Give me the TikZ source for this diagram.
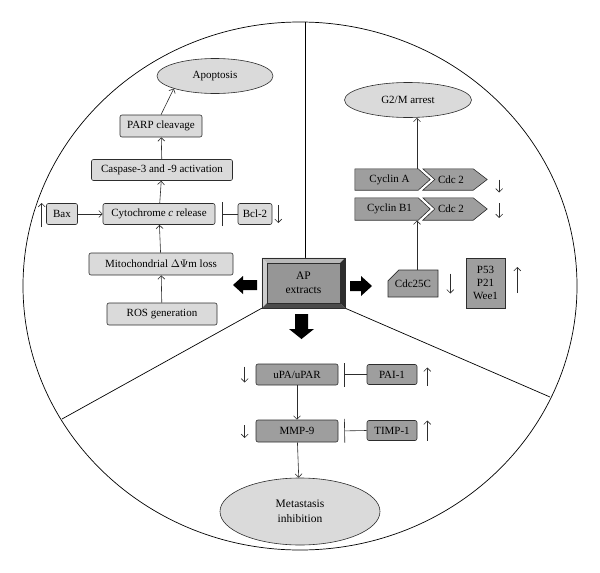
\documentclass[tikz,border=0pt]{standalone}
\usepackage{fontspec}
\setmainfont{Liberation Serif}
\usetikzlibrary{positioning,arrows.meta,shapes.geometric,shapes.misc}
\definecolor{edgegray}{RGB}{45,45,45}
\definecolor{palegray}{RGB}{218,218,218}
\definecolor{midgray}{RGB}{158,158,158}
\definecolor{facegray}{RGB}{150,150,150}
\definecolor{bevellight}{RGB}{205,205,205}
\definecolor{beveltop}{RGB}{185,185,185}
\definecolor{beveldark}{RGB}{75,75,75}
\definecolor{bevelshade}{RGB}{45,45,45}
\tikzset{
  light-node/.style={draw=edgegray, fill=palegray, rounded corners=2pt, line width=0.6pt,
    inner sep=0pt, font=\fontsize{11}{13}\selectfont, align=center},
  dark-node/.style={draw=edgegray, fill=midgray, rounded corners=2pt, line width=0.6pt,
    inner sep=0pt, font=\fontsize{11}{13}\selectfont, align=center},
  outcome-node/.style={ellipse, draw=edgegray, fill=palegray, inner sep=0pt, line width=0.6pt,
    font=\fontsize{11}{13}\selectfont, align=center},
  label-node/.style={inner sep=0pt, font=\fontsize{11}{13}\selectfont},
  cc-shape/.style={draw=edgegray, fill=midgray, line width=0.6pt},
  flow-arrow/.style={-{Straight Barb[length=3.5pt,width=7pt]}, line width=0.6pt, draw=edgegray},
  inhibit-arrow/.style={-{Bar[width=24pt]}, line width=0.6pt, draw=edgegray, shorten >=7pt},
  level-arrow/.style={-{Straight Barb[length=3.5pt,width=7pt]}, line width=0.6pt, draw=edgegray},
  block-arrow/.style={fill=black},
  divider/.style={draw=black, line width=0.7pt}
}
\begin{document}
\begin{tikzpicture}[x=1pt, y=-1pt]
\useasboundingbox (0,0) rectangle (600,573);
% outer disc and the three sector borders
\draw[divider] (300,286) ellipse [x radius=277pt, y radius=264pt];
\node[minimum width=83, minimum height=50, inner sep=0pt] (ap-frame) at (303.5,283) {};
\coordinate (rim-top) at (305,22);
\coordinate (rim-left) at (62,419);
\coordinate (rim-right) at (550,397);
\draw[divider] (rim-top) -- (rim-top |- ap-frame.north);
\draw[divider] (ap-frame.south west) -- (rim-left);
\draw[divider] (ap-frame.south east) -- (rim-right);
% bevelled centre box
\node[minimum width=73, minimum height=40, inner sep=0pt] (ap) at (303.5,283) {};
\fill[beveltop] (ap-frame.north west) -- (ap-frame.north east) -- (ap.north east) -- (ap.north west) -- cycle;
\fill[bevellight] (ap-frame.north west) -- (ap.north west) -- (ap.south west) -- (ap-frame.south west) -- cycle;
\fill[bevelshade] (ap-frame.north east) -- (ap-frame.south east) -- (ap.south east) -- (ap.north east) -- cycle;
\fill[beveldark] (ap-frame.south west) -- (ap.south west) -- (ap.south east) -- (ap-frame.south east) -- cycle;
\draw[edgegray, thin] (ap-frame.north west) rectangle (ap-frame.south east);
\node[draw=edgegray, fill=facegray, minimum width=73, minimum height=40, inner sep=0pt,
  font=\fontsize{11.5}{13.5}\selectfont, align=center] at (ap) {AP\\extracts};
% thick arrows out of the centre box
\fill[block-arrow] (257,280) -- (243,280) -- (243,276) -- (233,285) -- (243,294) -- (243,290) -- (257,290) -- cycle;
\fill[block-arrow] (350,281) -- (361,281) -- (361,276) -- (372,286) -- (361,296) -- (361,291) -- (350,291) -- cycle;
\fill[block-arrow] (295,314) -- (295,329) -- (289,329) -- (301.5,339) -- (314,329) -- (308,329) -- (308,314) -- cycle;
% apoptosis sector
\node[outcome-node, minimum width=116, minimum height=35] (apoptosis) at (215,76) {Apoptosis};
\node[light-node, minimum width=82, minimum height=22] (parp) at (161,126) {PARP cleavage};
\node[light-node, minimum width=141, minimum height=21] (casp) at (162,170) {Caspase-3 and -9 activation};
\node[light-node, minimum width=112, minimum height=21] (cyto) at (159,214) {Cytochrome \textit{c} release};
\node[light-node, minimum width=31, minimum height=21] (bax) at (62,214) {Bax};
\node[light-node, minimum width=34, minimum height=21] (bcl2) at (255,214) {Bcl-2};
\node[light-node, minimum width=144, minimum height=22] (mito) at (161,264) {Mitochondrial $\Delta\Psi$m loss};
\node[light-node, minimum width=110, minimum height=22] (ros) at (162,314) {ROS generation};
\draw[flow-arrow] (ros) -- (mito);
\draw[flow-arrow] (mito) -- (cyto);
\draw[flow-arrow] (cyto) -- (casp);
\draw[flow-arrow] (casp) -- (parp);
\draw[flow-arrow] (parp.north) -- (apoptosis.south west);
\draw[flow-arrow] (bax) -- (cyto);
\draw[inhibit-arrow] (bcl2.west) -- (cyto.east);
\draw[level-arrow] ([xshift=-4.5]bax.west) ++(0,13) -- ++(0,-24);
\draw[level-arrow] ([xshift=6]bcl2.east) ++(0,-9) -- ++(0,18);
% cell cycle sector: cyclin pointers fit into the notched Cdc 2 blocks
\node[outcome-node, minimum width=127, minimum height=35] (g2m) at (408,100) {G2/M arrest};
\node[label-node, minimum width=63, minimum height=21] (cyclina) at (386.5,179.5) {};
\node[label-node, minimum width=50, minimum height=21] (cdca) at (448,179.5) {};
\node[label-node, minimum width=63, minimum height=22] (cyclinb) at (386.5,209) {};
\node[label-node, minimum width=50, minimum height=22] (cdcb) at (448,209) {};
\filldraw[cc-shape] (cyclina.north west) -- (cyclina.north east) -- ([xshift=12]cyclina.east)
  -- (cyclina.south east) -- (cyclina.south west) -- cycle;
\filldraw[cc-shape] (cdca.north west) -- (cdca.north east) -- ([xshift=14]cdca.east)
  -- (cdca.south east) -- (cdca.south west) -- ([xshift=12]cdca.west) -- cycle;
\filldraw[cc-shape] (cyclinb.north west) -- (cyclinb.north east) -- ([xshift=12]cyclinb.east)
  -- (cyclinb.south east) -- (cyclinb.south west) -- cycle;
\filldraw[cc-shape] (cdcb.north west) -- (cdcb.north east) -- ([xshift=14]cdcb.east)
  -- (cdcb.south east) -- (cdcb.south west) -- ([xshift=12]cdcb.west) -- cycle;
\node[label-node] at ([xshift=3]cyclina) {Cyclin A};
\node[label-node] at ([xshift=3]cdca) {Cdc 2};
\node[label-node] at ([xshift=3]cyclinb) {Cyclin B1};
\node[label-node] at ([xshift=3]cdcb) {Cdc 2};
\node[dark-node, rounded corners=0pt, chamfered rectangle, chamfered rectangle corners=north west,
  chamfered rectangle xsep=7pt, chamfered rectangle ysep=7pt,
  minimum width=50, minimum height=27] (cdc25c) at (413,283.5) {Cdc25C};
\node[dark-node, rounded corners=0pt, minimum width=39, minimum height=50] (p53) at (485.5,283) {P53\\P21\\Wee1};
\coordinate (cc-top) at (417,169);
\coordinate (cc-bottom) at (417,220.5);
\draw[flow-arrow] (cc-top) -- (cc-top |- g2m.south);
\draw[flow-arrow] ([xshift=4]cdc25c.north) -- (cc-bottom);
\draw[level-arrow] ([xshift=26]cdca.east) ++(0,0) -- ++(0,13);
\draw[level-arrow] ([xshift=26]cdcb.east) ++(0,-6) -- ++(0,15);
\draw[level-arrow] ([xshift=12]cdc25c.east) ++(0,-10) -- ++(0,20);
\draw[level-arrow] ([xshift=12]p53.east) ++(0,10) -- ++(0,-26);
% metastasis sector
\node[dark-node, minimum width=82, minimum height=21] (upa) at (297,374.5) {uPA/uPAR};
\node[dark-node, minimum width=50, minimum height=20] (pai1) at (392,374.5) {PAI-1};
\node[dark-node, minimum width=82, minimum height=22] (mmp9) at (297,431) {MMP-9};
\node[dark-node, minimum width=50, minimum height=20] (timp1) at (392,430.5) {TIMP-1};
\node[outcome-node, minimum width=160, minimum height=67, font=\fontsize{11.5}{15}\selectfont] (metastasis) at (300,511.5) {Metastasis\\inhibition};
\draw[flow-arrow] (upa) -- (mmp9);
\draw[flow-arrow] (mmp9) -- (metastasis);
\draw[inhibit-arrow, shorten >=6pt] (pai1.west) -- (upa.east);
\draw[inhibit-arrow, shorten >=6pt] (timp1.west) -- (mmp9.east);
\draw[level-arrow] ([xshift=-11]upa.west) ++(0,-8) -- ++(0,16);
\draw[level-arrow] ([xshift=-11]mmp9.west) ++(0,-6) -- ++(0,13);
\draw[level-arrow] ([xshift=10]pai1.east) ++(0,11) -- ++(0,-18);
\draw[level-arrow] ([xshift=10]timp1.east) ++(0,10) -- ++(0,-20);
\end{tikzpicture}
\end{document}
